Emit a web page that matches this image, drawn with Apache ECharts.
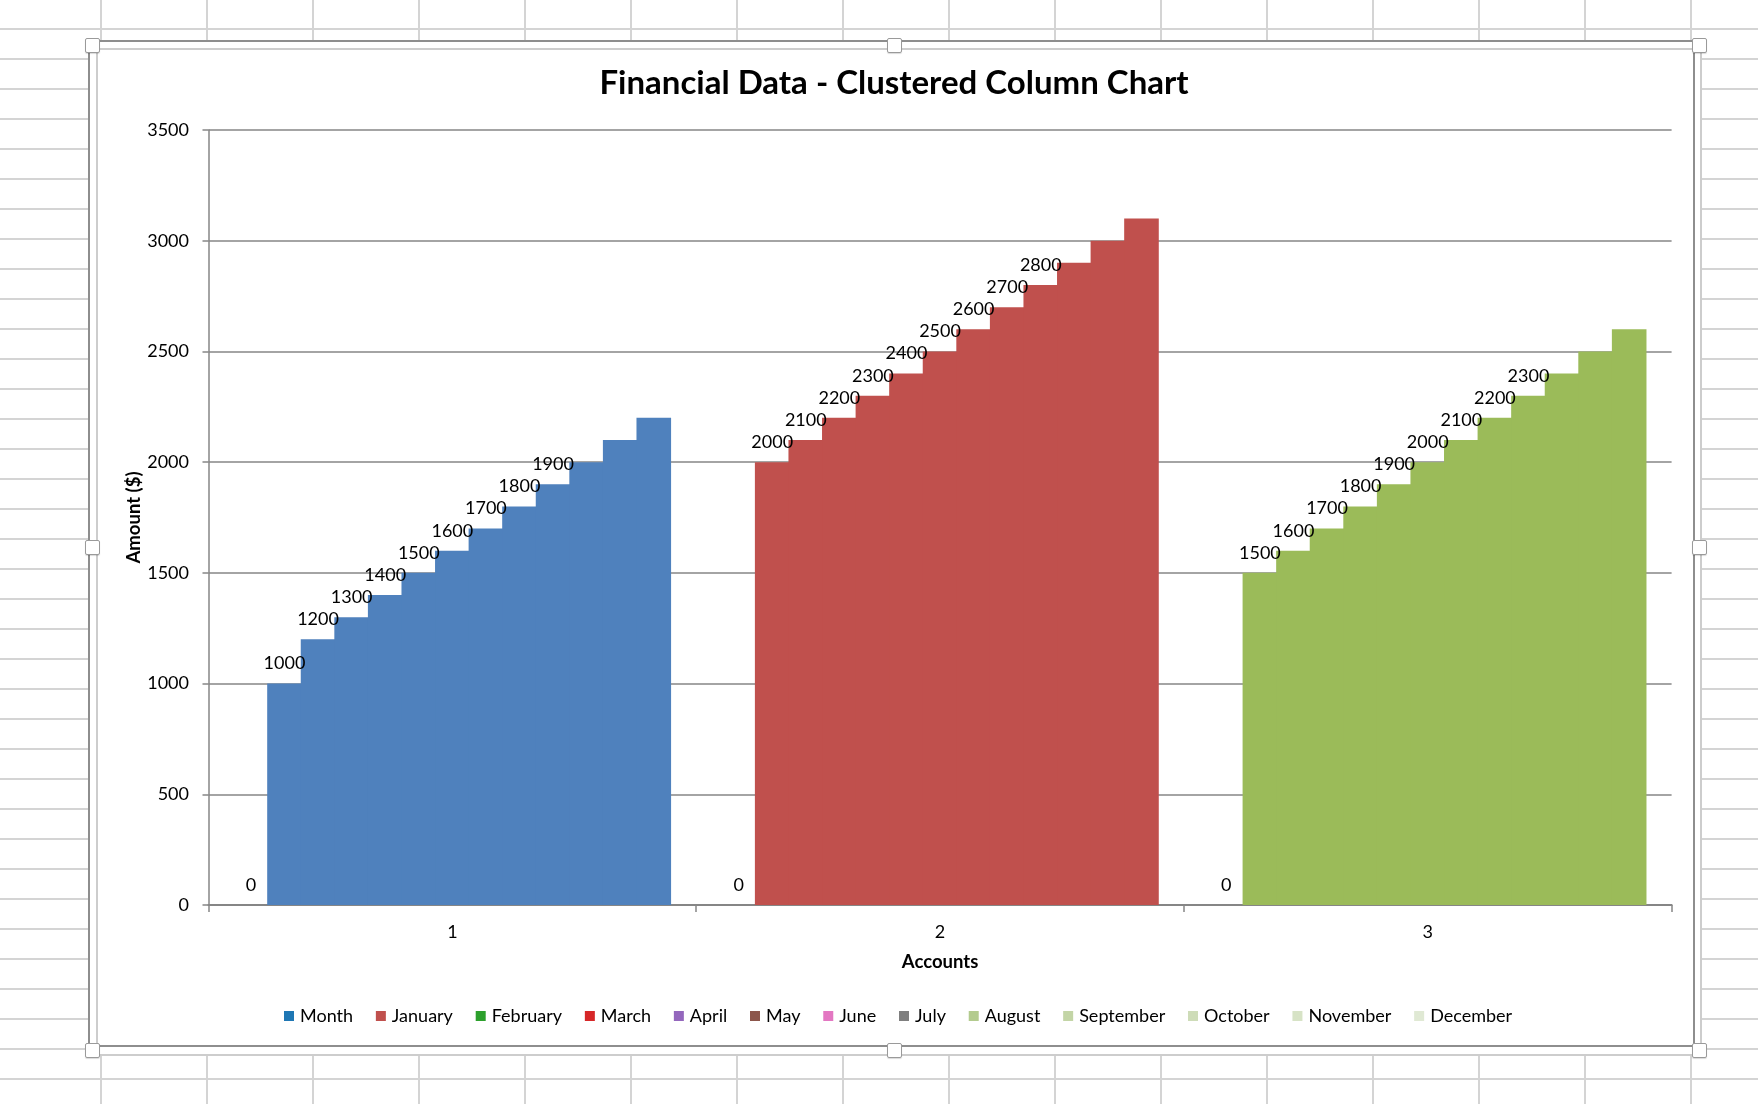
<!DOCTYPE html>
<html>
<head>
<meta charset="utf-8">
<script src="https://cdn.jsdelivr.net/npm/echarts@6/dist/echarts.min.js"></script>
<style>
html,body{margin:0;padding:0;width:1758px;height:1104px;overflow:hidden;background:#fff;}
#sheet{position:absolute;left:0;top:0;width:1758px;height:1104px;
  background-image:linear-gradient(to bottom,#d4d4d4 0,#d4d4d4 2px,transparent 2px),
                   linear-gradient(to right,#d4d4d4 0,#d4d4d4 2px,transparent 2px);
  background-size:100% 30px,106px 100%;
  background-position:0 28px,100px 0;}
#paper{position:absolute;left:88px;top:40px;width:1614px;height:1016px;background:#fff;}
#frameDark{position:absolute;left:88px;top:40px;width:1607px;height:1007px;box-sizing:border-box;border:2px solid #8e8e8e;}
#frameLight{position:absolute;left:96px;top:48px;width:1606px;height:1008px;box-sizing:border-box;border:2px solid #cdcdcd;}
#chart{position:absolute;left:0;top:0;width:1758px;height:1104px;}
.h{position:absolute;width:15px;height:15px;box-sizing:border-box;background:#fff;border:1px solid #9a9a9a;border-radius:2px;box-shadow:0 1px 1px rgba(0,0,0,0.15);}
</style>
</head>
<body>
<div id="sheet"></div>
<div id="paper"></div>
<div id="frameDark"></div>
<div id="frameLight"></div>
<div id="chart"></div>
<div class="h" style="left:85px;top:38px"></div>
<div class="h" style="left:887px;top:38px"></div>
<div class="h" style="left:1692px;top:38px"></div>
<div class="h" style="left:85px;top:540px"></div>
<div class="h" style="left:1692px;top:540px"></div>
<div class="h" style="left:85px;top:1043px"></div>
<div class="h" style="left:887px;top:1043px"></div>
<div class="h" style="left:1692px;top:1043px"></div>
<script>
// ---- data ----
const categories = ['1', '2', '3'];
const seriesNames = ['Month', 'January', 'February', 'March', 'April', 'May', 'June',
  'July', 'August', 'September', 'October', 'November', 'December'];
const month     = [0, 0, 0];
const january   = [1000, 2000, 1500];
const february  = [1200, 2100, 1600];
const march     = [1300, 2200, 1700];
const april     = [1400, 2300, 1800];
const may       = [1500, 2400, 1900];
const june      = [1600, 2500, 2000];
const july      = [1700, 2600, 2100];
const august    = [1800, 2700, 2200];
const september = [1900, 2800, 2300];
const october   = [2000, 2900, 2400];
const november  = [2100, 3000, 2500];
const december  = [2200, 3100, 2600];
const yTicks = [0, 500, 1000, 1500, 2000, 2500, 3000, 3500];
const unlabeledSeries = ['October', 'November', 'December'];

// ---- styles ----
const seriesValues = [month, january, february, march, april, may, june, july,
  august, september, october, november, december];
const legendColors = ['#1f77b4', '#c0504d', '#2ca02c', '#d62728', '#9467bd', '#8c564b',
  '#e377c2', '#7f7f7f', '#b3cb8e', '#c3d5a6', '#cedcb8', '#d7e3c6', '#e0e9d4'];
const categoryColors = ['#4f81bd', '#c0504d', '#9bbb59'];
const FONT = 'Lato, "Open Sans", sans-serif';
const AXIS = '#868686';

const chart = echarts.init(document.getElementById('chart'), null, {renderer: 'canvas'});

const series = seriesNames.map((name, si) => ({
  name: name,
  type: 'bar',
  barGap: '-3%',
  barCategoryGap: '10.3%',
  itemStyle: {color: legendColors[si]},
  label: {
    show: unlabeledSeries.indexOf(name) < 0,
    position: 'top',
    distance: 11,
    fontFamily: FONT,
    fontSize: 18,
    color: '#000'
  },
  data: seriesValues[si].map((v, ci) => ({
    value: v,
    itemStyle: {color: categoryColors[ci], borderWidth: 0}
  }))
}));

chart.setOption({
  backgroundColor: 'transparent',
  animation: false,
  title: {
    text: 'Financial Data - Clustered Column Chart',
    left: 894,
    top: 67,
    padding: 0,
    textAlign: 'center',
    textStyle: {fontFamily: FONT, fontWeight: 'bold', fontSize: 33, color: '#000'}
  },
  legend: {
    data: seriesNames,
    left: 284,
    top: 1007,
    padding: 0,
    icon: 'rect',
    itemWidth: 10,
    itemHeight: 10,
    itemGap: 22.8,
    selectedMode: false,
    textStyle: {fontFamily: FONT, fontSize: 18, color: '#000', padding: [0, 0, 0, 1]}
  },
  grid: {
    left: 208.5, right: 86.4, top: 130, bottom: 199,
    containLabel: false, outerBoundsMode: 'none'
  },
  xAxis: {
    type: 'category',
    data: categories,
    name: 'Accounts',
    nameLocation: 'middle',
    nameGap: 48,
    nameMoveOverlap: false,
    nameTextStyle: {fontFamily: FONT, fontWeight: 'bold', fontSize: 18.5, color: '#000'},
    axisLine: {lineStyle: {color: AXIS, width: 2}},
    axisTick: {show: true, length: 7, lineStyle: {color: AXIS, width: 1.5}},
    axisLabel: {fontFamily: FONT, fontSize: 18, color: '#000', margin: 18}
  },
  yAxis: {
    type: 'value',
    min: yTicks[0],
    max: yTicks[yTicks.length - 1],
    interval: yTicks[1] - yTicks[0],
    name: 'Amount ($)',
    nameLocation: 'middle',
    nameGap: 65,
    nameMoveOverlap: false,
    nameRotate: 90,
    nameTextStyle: {fontFamily: FONT, fontWeight: 'bold', fontSize: 18.5, color: '#000'},
    axisLine: {show: true, lineStyle: {color: AXIS, width: 1.5}},
    axisTick: {show: true, length: 6, lineStyle: {color: AXIS, width: 1.5}},
    axisLabel: {fontFamily: FONT, fontSize: 18, color: '#000', margin: 19.5,
      formatter: v => String(v)},
    splitLine: {show: true, lineStyle: {color: AXIS, width: 1.5}}
  },
  series: series
});
</script>
</body>
</html>
